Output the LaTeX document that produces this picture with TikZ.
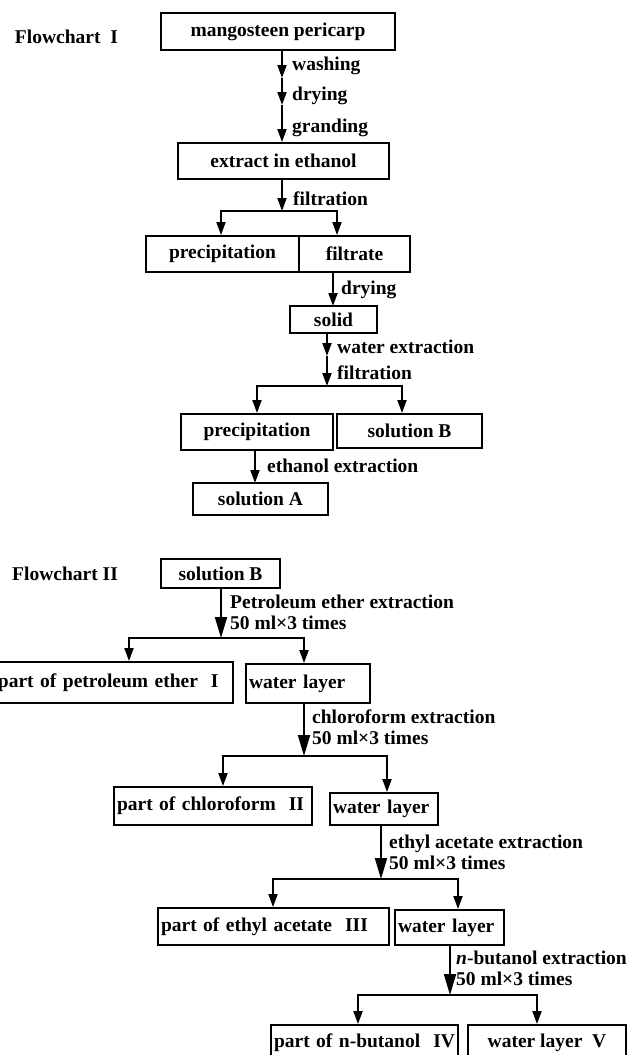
\documentclass[tikz,border=0pt]{standalone}
\usepackage{fontspec}
\setmainfont{Liberation Serif}
\usetikzlibrary{positioning, arrows.meta}

\begin{document}
\begin{tikzpicture}[
        x=1pt, y=-1pt,
        font=\fontsize{19.5}{21}\selectfont\bfseries,
        box/.style 2 args={rectangle, draw, line width=1.9pt, minimum width=#1, minimum height=#2, inner sep=0pt, align=center},
        lbox/.style 2 args={rectangle, draw, line width=1.9pt, text width=#1, minimum height=#2, inner xsep=3pt, inner ysep=0pt, align=left},
        lbl/.style={anchor=west, inner sep=0pt, align=left},
        tipS/.style={-{Triangle[length=13pt, width=9pt]}, line width=1.9pt},
        tipL/.style={-{Triangle[length=21pt, width=12pt]}, line width=1.9pt},
        fork/.style={{Triangle[length=13pt, width=9pt]}-{Triangle[length=13pt, width=9pt]}, line width=1.9pt}
    ]
        \useasboundingbox (0,0) rectangle (635,1055);

        % Flowchart I
        \node[box={234pt}{37pt}] (peri) at (278,31.5) {mangosteen pericarp};
        \node[left=42pt of peri, yshift=-5pt, inner sep=0pt] (fc1) {Flowchart\ \ I};
        \node[box={211pt}{36pt}] (ext) at (283.5,161) {extract in ethanol};
        \node[box={153pt}{36pt}] (prec) at (222.5,254) {precipitation};
        \node[box={111pt}{36pt}] (filt) at (354.5,254) {filtrate};
        \node[box={87pt}{27pt}] (solid) at (333.5,319.5) {solid};
        \node[box={152pt}{36pt}] (precB) at (257,432) {precipitation};
        \node[box={145pt}{34pt}] (solB) at (409.5,431) {solution B};
        \node[box={135pt}{32pt}] (solA) at (260.5,499) {solution A};

        \coordinate (s1) at (282,78);
        \coordinate (s2) at (282,105);
        \coordinate (f1) at (282,211);
        \coordinate (f1l) at (221,211);
        \coordinate (f1r) at (337,211);
        \draw[tipS] (peri.south -| s1) -- (s1);
        \draw[tipS] (s1) -- (s2);
        \draw[tipS] (s2) -- (ext.north -| s2);
        \draw[tipS] (ext.south -| f1) -- (f1);
        \draw[fork] (prec.north -| f1l) |- (f1r) -- (filt.north -| f1r);

        \coordinate (d1) at (333,306);
        \draw[tipS] (filt.south -| d1) -- (d1);

        \coordinate (w1) at (327,356);
        \coordinate (w2) at (327,386);
        \coordinate (f2l) at (257,386);
        \coordinate (f2r) at (402,386);
        \draw[tipS] (solid.south -| w1) -- (w1);
        \draw[tipS] (w1) -- (w2);
        \draw[fork] (precB.north -| f2l) |- (f2r) -- (solB.north -| f2r);

        \coordinate (e1) at (255,483);
        \draw[tipS] (precB.south -| e1) -- (e1);

        \node[lbl] at (292,66) {washing};
        \node[lbl] at (292,96) {drying};
        \node[lbl] at (292,128) {granding};
        \node[lbl] at (293,199) {filtration};
        \node[lbl] at (341,290) {drying};
        \node[lbl] at (337,347) {water extraction};
        \node[lbl] at (337,373) {filtration};
        \node[lbl] at (267,466) {ethanol extraction};

        % Flowchart II
        \node[box={119pt}{29pt}] (solBii) at (220.5,573.5) {solution B};
        \node[left=42pt of solBii, inner sep=0pt] (fc2) {Flowchart II};
        \node[lbox={232pt}{41pt}] (pet) at (114,682.5) {part of petroleum ether\ \ I};
        \node[lbox={118pt}{39pt}] (wlA) at (308,683.5) {water layer};
        \node[lbox={192pt}{38pt}] (chl) at (213,806) {part of chloroform\ \ II};
        \node[lbox={102pt}{32pt}] (wlB) at (384,809) {water layer};
        \node[lbox={225pt}{37pt}] (eth) at (273.5,926.5) {part of ethyl acetate\ \ III};
        \node[lbox={103pt}{35pt}] (wlC) at (449.5,927.5) {water layer};
        \node[lbox={181pt}{36pt}] (but) at (364.5,1043) {part of n-butanol\ \ IV};
        \node[box={158pt}{36pt}] (wlD) at (547,1043) {water layer\ \ V};

        \coordinate (p1) at (221,638);
        \coordinate (f3l) at (129,638);
        \coordinate (f3r) at (304,638);
        \draw[tipL] (solBii.south -| p1) -- (p1);
        \draw[fork] (pet.north -| f3l) |- (f3r) -- (wlA.north -| f3r);

        \coordinate (p2) at (304,756);
        \coordinate (f4l) at (223,756);
        \coordinate (f4r) at (387,756);
        \draw[tipL] (wlA.south -| p2) -- (p2);
        \draw[fork] (chl.north -| f4l) |- (f4r) -- (wlB.north -| f4r);

        \coordinate (p3) at (381,879);
        \coordinate (f5l) at (273,879);
        \coordinate (f5r) at (458,879);
        \draw[tipL] (wlB.south -| p3) -- (p3);
        \draw[fork] (eth.north -| f5l) |- (f5r) -- (wlC.north -| f5r);

        \coordinate (p4) at (450,995);
        \coordinate (f6l) at (358,995);
        \coordinate (f6r) at (537,995);
        \draw[tipL] (wlC.south -| p4) -- (p4);
        \draw[fork] (but.north -| f6l) |- (f6r) -- (wlD.north -| f6r);

        \node[lbl] at (230,612.5) {Petroleum ether extraction\\50 ml×3 times};
        \node[lbl] at (312,727.5) {chloroform extraction\\50 ml×3 times};
        \node[lbl] at (389,852.5) {ethyl acetate extraction\\50 ml×3 times};
        \node[lbl] at (456,968) {\textit{n}-butanol extraction\\50 ml×3 times};
    \end{tikzpicture}
\end{document}
